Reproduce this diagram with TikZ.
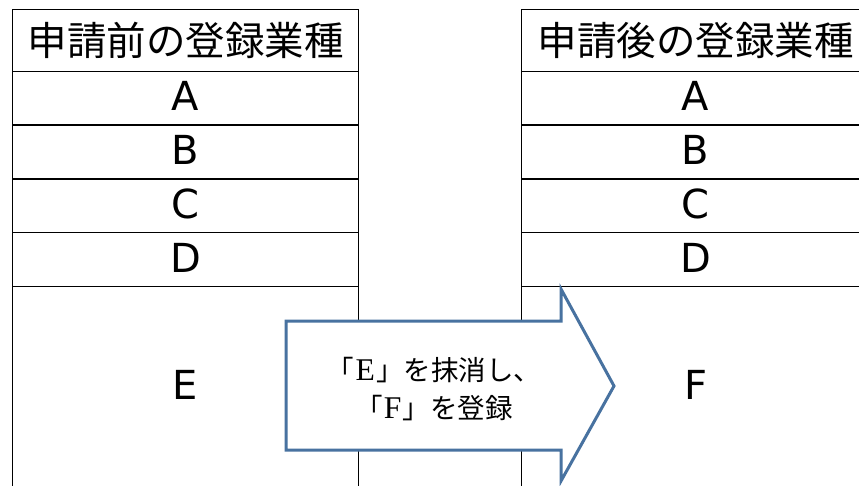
\documentclass[tikz,border=0pt]{standalone}
\usepackage{fontspec}
\setmainfont{Noto Sans CJK JP}
\newfontfamily\latinserif[Scale=1.15]{Liberation Serif}
\newfontfamily\lettersans{DejaVu Sans}
\usepackage{xcolor}
\usetikzlibrary{positioning}
\definecolor{arrowblue}{RGB}{72,114,160}

\begin{document}
\begin{tikzpicture}[x=1pt,y=-1pt,
		cell/.style={draw,line width=1.5pt,inner sep=0pt,outer sep=0pt,minimum height=53.7pt,text depth=4pt,font=\lettersans\fontsize{40}{44}\selectfont},
		headcell/.style={cell,minimum height=62pt,text depth=,font=\fontsize{39.5}{44}\selectfont},
		bigcell/.style={cell,minimum height=204pt,text depth=7pt},
		arrowline/.style={draw=arrowblue,fill=white,line width=3pt,line join=miter}]
			\clip (0,0) rectangle (859,486);
			% before the application
			\node[headcell,minimum width=346pt] (prehead) at (185.5,40.5) {申請前の登録業種};
			\node[cell,minimum width=346pt,below=0pt of prehead] (prea) {A};
			\node[cell,minimum width=346pt,below=0pt of prea] (preb) {B};
			\node[cell,minimum width=346pt,below=0pt of preb] (prec) {C};
			\node[cell,minimum width=346pt,below=0pt of prec] (pred) {D};
			\node[bigcell,minimum width=346pt,below=0pt of pred] (pree) {E};
			% after the application
			\node[headcell,minimum width=348pt] (posthead) at (695.5,40.5) {申請後の登録業種};
			\node[cell,minimum width=348pt,below=0pt of posthead] (posta) {A};
			\node[cell,minimum width=348pt,below=0pt of posta] (postb) {B};
			\node[cell,minimum width=348pt,below=0pt of postb] (postc) {C};
			\node[cell,minimum width=348pt,below=0pt of postc] (postd) {D};
			\node[bigcell,minimum width=348pt,below=0pt of postd] (postf) {F};
			% block arrow
			\draw[arrowline] (286,321) -- (561,321) -- (561,289) -- (614,386) -- (561,481) -- (561,450) -- (286,450) -- cycle;
			\node[align=center,font=\fontsize{27.5}{38}\selectfont] (change) at (434,389)
				{「\hspace{0.04em}{\latinserif E}\hspace{0.04em}」を抹消し、\\「\hspace{0.04em}{\latinserif F}\hspace{0.04em}」を登録};
		\end{tikzpicture}
\end{document}
